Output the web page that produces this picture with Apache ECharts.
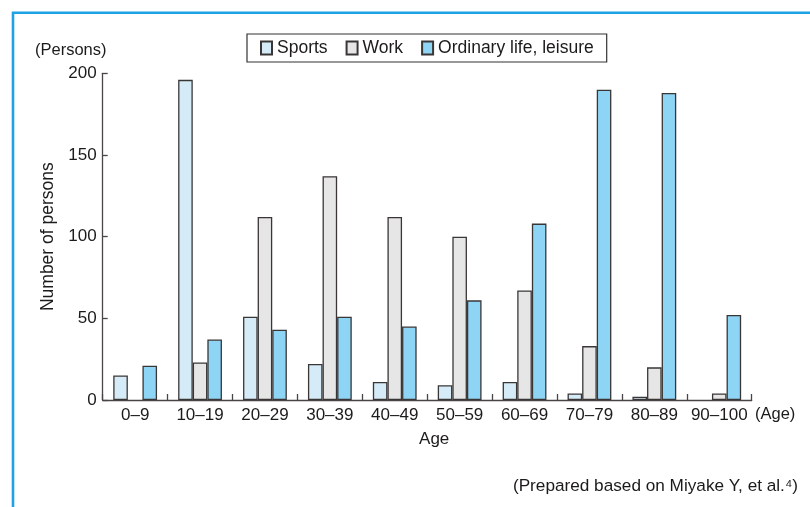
<!DOCTYPE html>
<html>
<head>
<meta charset="utf-8">
<script src="https://cdn.jsdelivr.net/npm/echarts@6/dist/echarts.min.js"></script>
<style>
html,body{margin:0;padding:0;background:#fff;}
#chart{width:810px;height:507px;}
</style>
</head>
<body>
<div id="chart"></div>
<script>
var categories = ['0–9','10–19','20–29','30–39','40–49','50–59','60–69','70–79','80–89','90–100'];
var sports  = [15, 196, 51, 22, 11, 9, 11, 4, 2, null];
var work    = [null, 23, 112, 137, 112, 100, 67, 33, 20, 4];
var leisure = [21, 37, 43, 51, 45, 61, 108, 190, 188, 52];
var yTicks = [0, 50, 100, 150, 200];
var seriesNames = ['Sports', 'Work', 'Ordinary life, leisure'];

var FONT = '"Liberation Sans", Arial, Helvetica, sans-serif';
var TXT = '#1c1a1a';
var chart = echarts.init(document.getElementById('chart'), null, {renderer: 'canvas'});

function barSeries(name, data, color) {
  return {
    name: name, type: 'bar', data: data,
    barWidth: 14.6, barGap: '0%',
    itemStyle: {color: color, borderColor: '#3a3636', borderWidth: 1.3},
    emphasis: {disabled: true}
  };
}

chart.setOption({
  animation: false,
  textStyle: {fontFamily: FONT, color: TXT},
  grid: {left: 102.7, right: 58.3, top: 73.3, bottom: 107, containLabel: false},
  legend: {
    data: seriesNames,
    left: 247, top: 34,
    padding: [5, 13, 5, 13],
    itemWidth: 11, itemHeight: 13, itemGap: 18,
    icon: 'rect',
    borderColor: '#333', borderWidth: 1.2,
    textStyle: {fontFamily: FONT, fontSize: 17.5, color: TXT},
    selectedMode: false
  },
  xAxis: {
    type: 'category', data: categories,
    name: 'Age', nameLocation: 'middle', nameGap: 31,
    nameTextStyle: {fontFamily: FONT, fontSize: 17, color: TXT, padding: [0, 0, 0, 14]},
    axisLine: {lineStyle: {color: '#4a4545', width: 1.3}},
    axisTick: {show: true, inside: true, length: 6, lineStyle: {color: '#4a4545', width: 1.3}},
    axisLabel: {fontFamily: FONT, fontSize: 17, color: TXT, margin: 7, interval: 0}
  },
  yAxis: {
    type: 'value', min: yTicks[0], max: yTicks[yTicks.length - 1], interval: 50,
    name: 'Number of persons', nameLocation: 'middle', nameGap: 46,
    nameTextStyle: {fontFamily: FONT, fontSize: 17.5, color: TXT},
    axisLine: {show: true, lineStyle: {color: '#4a4545', width: 1.3}},
    axisTick: {show: true, inside: true, length: 5, lineStyle: {color: '#4a4545', width: 1.3}},
    axisLabel: {fontFamily: FONT, fontSize: 17, color: TXT, margin: 6},
    splitLine: {show: false}
  },
  series: [
    barSeries(seriesNames[0], sports, '#d5ecf8'),
    barSeries(seriesNames[1], work, '#e6e6e6'),
    barSeries(seriesNames[2], leisure, '#8ed4f4')
  ],
  graphic: [
    {type: 'rect', shape: {x: 13, y: 12.8, width: 820, height: 520},
     style: {fill: 'none', stroke: '#1fa2e4', lineWidth: 2.6}, silent: true},
    {type: 'text', left: 35, top: 42,
     style: {text: '(Persons)', font: '16.5px ' + FONT, fill: TXT}},
    {type: 'text', left: 755, top: 406,
     style: {text: '(Age)', font: '16.5px ' + FONT, fill: TXT}},
    {type: 'text', right: 12, top: 478,
     style: {text: '(Prepared based on Miyake Y, et al.⁴)', font: '17.2px ' + FONT, fill: TXT}}
  ]
});
</script>
</body>
</html>
